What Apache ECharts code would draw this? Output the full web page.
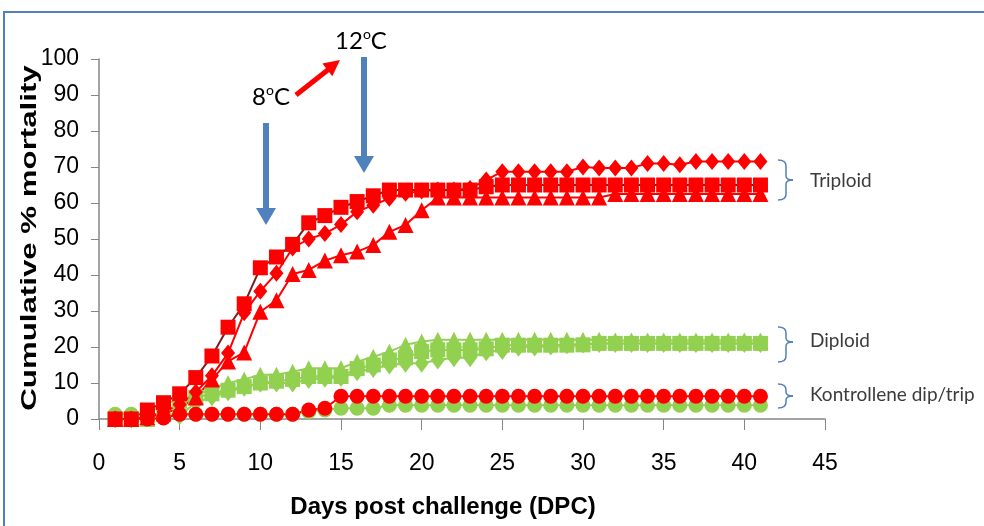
<!DOCTYPE html>
<html>
<head>
<meta charset="utf-8">
<script src="https://cdn.jsdelivr.net/npm/echarts@6/dist/echarts.min.js"></script>
<style>html,body{margin:0;padding:0;background:#fff}#c{width:984px;height:526px}</style>
</head>
<body>
<div id="c"></div>
<script>
const days = [1,2,3,4,5,6,7,8,9,10,11,12,13,14,15,16,17,18,19,20,21,22,23,24,25,26,27,28,29,30,31,32,33,34,35,36,37,38,39,40,41];

const triploidSquare = [0,0,2.5,4.5,7,11.5,17.5,25.5,32,42,45,48.5,54.5,56.5,58.8,60.4,62,63.6,63.6,63.6,63.6,63.6,63.6,64.5,65,65,65,65,65,65,65,65,65,65,65,65,65,65,65,65,65];
const triploidDiamond = [0,0,0.5,2,4,7.5,12,18.3,29.5,35.5,40.5,47.5,50,51.5,54,57.6,59.4,61.3,62.7,63.3,63.6,63.6,64,66.4,68.7,68.7,68.7,68.7,68.7,70,69.7,69.7,69.7,71,71,70.6,71.5,71.5,71.5,71.5,71.5];
const triploidTriangle = [0,0,0.5,1.5,3,6,11,16,18.5,29.8,33,40.3,41.4,44,45.5,46.5,48.3,52,53.9,58,61.5,61.5,61.5,61.5,61.5,61.5,61.5,61.5,61.5,61.5,61.5,62.5,62.5,62.5,62.5,62.5,62.5,62.5,62.5,62.5,62.5];

const diploidSquare = [0,0,1,4.5,5,6,7,8,9,10,10.5,11,11.8,11.8,11.8,14,15,16.4,17,18.7,19.2,19.2,19.2,19.5,20.5,20.5,20.5,20.5,20.5,20.6,21,21,21,21,21,21,21,21,21,21,21];
const diploidDiamond = [0,0,0.5,1.5,1,4.5,6.2,7.6,8.8,9.9,10,10,11,11.3,11.5,13.1,14,15,15.5,15.5,16.4,17,17,18.7,19,19.9,20,20.3,20.6,20.8,21,21,21,21,21,21,21,21,21,21,21];
const diploidTriangle = [0,0,0,2,4,6.5,8.5,10,11,12.3,12.3,13.1,14.1,14.1,14.1,15.9,17.3,18.7,20.6,21.5,22,22,22,22,22,22,22,22,22,22,22,21.8,21.8,21.8,21.8,21.8,21.8,21.8,21.8,21.8,21.8];

const controlTriploid = [0,0,0,0.3,1.3,1.3,1.3,1.3,1.3,1.3,1.3,1.3,2.5,3,6.3,6.3,6.3,6.3,6.3,6.3,6.3,6.3,6.3,6.3,6.3,6.3,6.3,6.3,6.3,6.3,6.3,6.3,6.3,6.3,6.3,6.3,6.3,6.3,6.3,6.3,6.3];
const controlDiploid = [1.3,1.3,1.3,1.3,1.3,1.3,1.3,1.3,1.3,1.3,1.3,1.3,2,2.5,3,3,3,3.8,3.8,3.8,3.8,3.8,3.8,3.8,3.8,3.8,3.8,3.8,3.8,3.8,3.8,3.8,3.8,3.8,3.8,3.8,3.8,3.8,3.8,3.8,3.8];

const xTicks = [0,5,10,15,20,25,30,35,40,45];
const yTicks = [0,10,20,30,40,50,60,70,80,90,100];

const RED = '#ff0000', DARKRED = '#7a1d1d', GREEN = '#92d050', BLUE = '#4f81bd';
const pairs = arr => days.map((d, i) => [d, arr[i]]);
function mk(name, arr, symbol, size, color, lineColor) {
  return {
    name, type: 'line', data: pairs(arr), symbol, symbolSize: size,
    itemStyle: { color, opacity: 1 }, lineStyle: { color: lineColor || color, width: 2 },
    emphasis: { disabled: true }, animation: false
  };
}
function bracket(y0, y1, m) {
  const st = { fill: null, stroke: BLUE, lineWidth: 1.5 };
  return [
    { type: 'bezierCurve', shape: { x1: 778, y1: y0, cpx1: 786, cpy1: y0, x2: 786, y2: y0 + 6 }, style: st },
    { type: 'line', shape: { x1: 786, y1: y0 + 6, x2: 786, y2: m - 4 }, style: st },
    { type: 'bezierCurve', shape: { x1: 786, y1: m - 4, cpx1: 786, cpy1: m, x2: 793, y2: m }, style: st },
    { type: 'bezierCurve', shape: { x1: 793, y1: m, cpx1: 786, cpy1: m, x2: 786, y2: m + 4 }, style: st },
    { type: 'line', shape: { x1: 786, y1: m + 4, x2: 786, y2: y1 - 6 }, style: st },
    { type: 'bezierCurve', shape: { x1: 786, y1: y1 - 6, cpx1: 786, cpy1: y1, x2: 778, y2: y1 }, style: st }
  ];
}

const chart = echarts.init(document.getElementById('c'), null, { renderer: 'canvas' });
chart.setOption({
  animation: false,
  grid: { left: 99, right: 159, top: 59, bottom: 107 },
  xAxis: {
    type: 'value', min: xTicks[0], max: xTicks[xTicks.length - 1], interval: 5,
    splitLine: { show: false },
    axisLine: { lineStyle: { color: '#868686', width: 1.5 } },
    axisTick: { length: 11, lineStyle: { color: '#868686' } },
    axisLabel: { margin: 33, fontSize: 23, color: '#000', fontFamily: 'Liberation Sans' }
  },
  yAxis: {
    type: 'value', min: yTicks[0], max: yTicks[yTicks.length - 1], interval: 10,
    splitLine: { show: false },
    axisLine: { show: true, lineStyle: { color: '#868686', width: 1.5 } },
    axisTick: { show: true, length: 8, lineStyle: { color: '#868686' } },
    axisLabel: { margin: 20, fontSize: 23, color: '#000', fontFamily: 'Liberation Sans' }
  },
  series: [
    mk('Diploid diamond', diploidDiamond, 'diamond', [14, 19], GREEN),
    mk('Diploid square', diploidSquare, 'rect', 15, GREEN),
    mk('Diploid triangle', diploidTriangle, 'triangle', 16, GREEN),
    mk('Control diploid', controlDiploid, 'circle', 15, GREEN),
    mk('Control triploid', controlTriploid, 'circle', 15, RED),
    mk('Triploid triangle', triploidTriangle, 'triangle', 16, RED),
    mk('Triploid diamond', triploidDiamond, 'diamond', [14, 17], RED),
    mk('Triploid square', triploidSquare, 'rect', 15, RED, DARKRED)
  ],
  graphic: [
    { type: 'rect', shape: { x: 4, y: 12, width: 1000, height: 600 }, style: { fill: null, stroke: BLUE, lineWidth: 2 }, silent: true },
    { type: 'text', x: 30, y: 238, rotation: Math.PI / 2, scaleX: 1.42, style: { text: 'Cumulative % mortality', font: 'bold 22px "Liberation Sans"', fill: '#000', align: 'center', verticalAlign: 'middle' } },
    { type: 'text', x: 443, y: 507, style: { text: 'Days post challenge (DPC)', font: 'bold 24px "Liberation Sans"', fill: '#000', align: 'center', verticalAlign: 'middle' } },
    { type: 'text', x: 271, y: 97, style: { text: '{a|8}{s|o}{a|C}', align: 'center', verticalAlign: 'middle', rich: { a: { fontFamily: 'Lato', fontSize: 24, fill: '#000', lineHeight: 28 }, s: { fontFamily: 'Lato', fontSize: 14, fill: '#000', verticalAlign: 'top', lineHeight: 28 } } } },
    { type: 'text', x: 361, y: 41, style: { text: '{a|12}{s|o}{a|C}', align: 'center', verticalAlign: 'middle', rich: { a: { fontFamily: 'Lato', fontSize: 24, fill: '#000', lineHeight: 28 }, s: { fontFamily: 'Lato', fontSize: 14, fill: '#000', verticalAlign: 'top', lineHeight: 28 } } } },
    { type: 'rect', shape: { x: 263, y: 123, width: 6, height: 86 }, style: { fill: BLUE } },
    { type: 'polygon', shape: { points: [[256, 208], [276, 208], [266, 225]] }, style: { fill: BLUE } },
    { type: 'rect', shape: { x: 361, y: 57, width: 6, height: 100 }, style: { fill: BLUE } },
    { type: 'polygon', shape: { points: [[354, 156], [374, 156], [364, 173]] }, style: { fill: BLUE } },
    { type: 'line', shape: { x1: 296, y1: 95, x2: 329, y2: 69 }, style: { stroke: RED, lineWidth: 5 } },
    { type: 'polygon', shape: { points: [[340, 60], [332.3, 76.2], [322.4, 63.6]] }, style: { fill: RED } },
    ...bracket(160, 200, 180),
    { type: 'text', x: 810, y: 181, style: { text: 'Triploid', font: '19px Lato', fill: '#3b3b3b', verticalAlign: 'middle' } },
    ...bracket(327, 362, 342),
    { type: 'text', x: 810, y: 341, style: { text: 'Diploid', font: '19px Lato', fill: '#3b3b3b', verticalAlign: 'middle' } },
    ...bracket(384, 408, 396),
    { type: 'text', x: 810, y: 395, style: { text: 'Kontrollene dip/trip', font: '19px Lato', fill: '#3b3b3b', verticalAlign: 'middle' } }
  ]
});
</script>
</body>
</html>
